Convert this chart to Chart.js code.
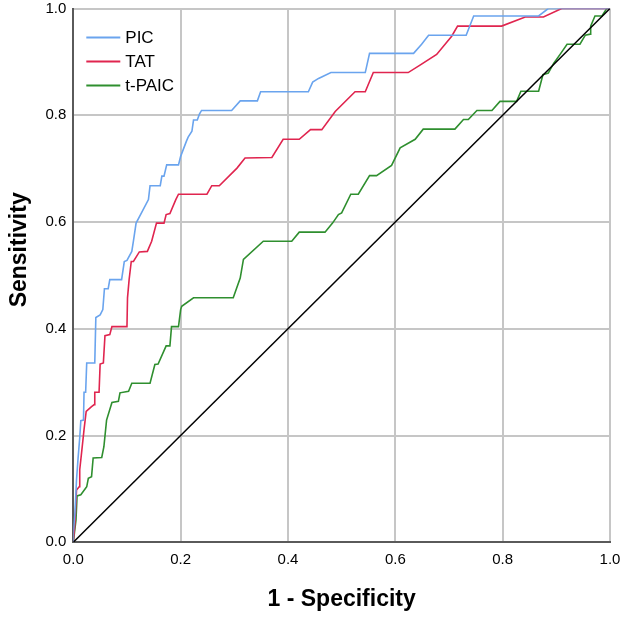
<!DOCTYPE html>
<html>
<head>
<meta charset="utf-8">
<script src="https://cdn.jsdelivr.net/npm/chart.js@4.4.1/dist/chart.umd.min.js"></script>
<style>
  html, body { margin: 0; padding: 0; background: #fff; }
  #wrap { width: 624px; height: 618px; }
</style>
</head>
<body>
<div id="wrap"><canvas id="rocChart"></canvas></div>
<script>
// ROC points (1 - specificity, sensitivity)
const picFpr = [0, 0, 0.003, 0.006, 0.009, 0.012, 0.014, 0.019, 0.020, 0.023, 0.025, 0.040, 0.042, 0.050, 0.055, 0.058, 0.065, 0.068, 0.090, 0.095, 0.100, 0.109, 0.112, 0.117, 0.127, 0.140, 0.143, 0.162, 0.165, 0.169, 0.174, 0.196, 0.200, 0.211, 0.214, 0.221, 0.224, 0.231, 0.235, 0.239, 0.295, 0.311, 0.343, 0.349, 0.438, 0.446, 0.457, 0.480, 0.544, 0.552, 0.634, 0.649, 0.662, 0.732, 0.746, 0.867, 0.885, 1];
const picTpr = [0, 0.017, 0.054, 0.117, 0.159, 0.196, 0.228, 0.229, 0.281, 0.281, 0.336, 0.336, 0.421, 0.426, 0.436, 0.475, 0.475, 0.492, 0.492, 0.526, 0.528, 0.545, 0.564, 0.598, 0.617, 0.642, 0.668, 0.668, 0.686, 0.686, 0.707, 0.707, 0.723, 0.752, 0.759, 0.770, 0.791, 0.791, 0.802, 0.809, 0.809, 0.827, 0.827, 0.844, 0.844, 0.862, 0.869, 0.880, 0.880, 0.916, 0.916, 0.933, 0.950, 0.950, 0.986, 0.986, 1, 1];

const tatFpr = [0, 0.003, 0.006, 0.011, 0.012, 0.016, 0.020, 0.024, 0.034, 0.039, 0.040, 0.048, 0.050, 0.056, 0.059, 0.068, 0.072, 0.100, 0.101, 0.104, 0.108, 0.112, 0.123, 0.138, 0.146, 0.155, 0.169, 0.173, 0.180, 0.191, 0.196, 0.249, 0.258, 0.272, 0.305, 0.320, 0.370, 0.391, 0.421, 0.442, 0.463, 0.488, 0.525, 0.544, 0.559, 0.624, 0.646, 0.677, 0.705, 0.716, 0.798, 0.842, 0.876, 0.910, 1];
const tatTpr = [0, 0.036, 0.098, 0.104, 0.136, 0.173, 0.211, 0.245, 0.254, 0.258, 0.281, 0.281, 0.334, 0.336, 0.387, 0.389, 0.404, 0.404, 0.458, 0.492, 0.526, 0.526, 0.544, 0.545, 0.564, 0.598, 0.598, 0.614, 0.616, 0.642, 0.652, 0.652, 0.668, 0.668, 0.701, 0.720, 0.721, 0.755, 0.755, 0.773, 0.773, 0.807, 0.844, 0.844, 0.880, 0.880, 0.894, 0.914, 0.948, 0.967, 0.967, 0.984, 0.984, 1, 1];

const tpaicFpr = [0, 0.005, 0.007, 0.014, 0.025, 0.028, 0.034, 0.037, 0.053, 0.057, 0.062, 0.072, 0.084, 0.087, 0.103, 0.109, 0.143, 0.152, 0.158, 0.173, 0.180, 0.183, 0.196, 0.200, 0.202, 0.224, 0.298, 0.311, 0.317, 0.354, 0.407, 0.421, 0.469, 0.483, 0.494, 0.500, 0.517, 0.531, 0.552, 0.565, 0.593, 0.609, 0.637, 0.652, 0.711, 0.727, 0.736, 0.752, 0.780, 0.795, 0.826, 0.834, 0.867, 0.875, 0.885, 0.895, 0.907, 0.920, 0.944, 0.954, 0.963, 0.964, 0.972, 0.985, 0.994, 1];
const tpaicTpr = [0, 0.042, 0.087, 0.089, 0.104, 0.120, 0.123, 0.158, 0.159, 0.179, 0.229, 0.262, 0.264, 0.280, 0.283, 0.298, 0.298, 0.333, 0.334, 0.368, 0.368, 0.404, 0.404, 0.436, 0.442, 0.458, 0.458, 0.495, 0.530, 0.564, 0.564, 0.581, 0.581, 0.598, 0.614, 0.617, 0.652, 0.652, 0.687, 0.687, 0.706, 0.739, 0.755, 0.774, 0.774, 0.792, 0.792, 0.809, 0.809, 0.826, 0.826, 0.845, 0.845, 0.876, 0.879, 0.897, 0.914, 0.933, 0.933, 0.950, 0.952, 0.967, 0.986, 0.986, 1, 1];

const refFpr = [0, 1];
const refTpr = [0, 1];

const seriesNames = ['PIC', 'TAT', 't-PAIC'];
const tickValues = [0, 0.2, 0.4, 0.6, 0.8, 1.0];

const toPoints = (xs, ys) => xs.map((x, i) => ({ x: x, y: ys[i] }));
const fontFamily = '"Liberation Sans", Arial, sans-serif';

// legend drawn inside the plot, top-left, like the SPSS output
const insideLegend = {
  id: 'insideLegend',
  afterDatasetsDraw(chart) {
    const { ctx, chartArea } = chart;
    ctx.save();
    ctx.font = '17px ' + fontFamily;
    ctx.textBaseline = 'middle';
    ctx.lineWidth = 2;
    let y = chartArea.top + 29;
    chart.data.datasets.forEach(ds => {
      if (!ds.label) return;
      const x = chartArea.left + 13;
      ctx.strokeStyle = ds.borderColor;
      ctx.beginPath();
      ctx.moveTo(x, y);
      ctx.lineTo(x + 34, y);
      ctx.stroke();
      ctx.fillStyle = '#000';
      ctx.fillText(ds.label, x + 39, y + 1);
      y += 24;
    });
    ctx.restore();
  }
};

const ctx = document.getElementById('rocChart').getContext('2d');
new Chart(ctx, {
  type: 'scatter',
  data: {
    datasets: [
      {
        label: '',
        data: toPoints(refFpr, refTpr),
        borderColor: '#000000',
        borderWidth: 1.5
      },
      {
        label: seriesNames[0],
        data: toPoints(picFpr, picTpr),
        borderColor: '#6aa4ee',
        borderWidth: 1.6
      },
      {
        label: seriesNames[1],
        data: toPoints(tatFpr, tatTpr),
        borderColor: '#e0254f',
        borderWidth: 1.6
      },
      {
        label: seriesNames[2],
        data: toPoints(tpaicFpr, tpaicTpr),
        borderColor: '#2f8f2f',
        borderWidth: 1.6
      }
    ]
  },
  options: {
    responsive: true,
    maintainAspectRatio: false,
    animation: false,
    showLine: true,
    elements: {
      point: { radius: 0, hoverRadius: 0 },
      line: { tension: 0 }
    },
    layout: {
      padding: { top: 8.5, right: 14, bottom: 0, left: 0 }
    },
    plugins: {
      legend: { display: false },
      tooltip: { enabled: false }
    },
    scales: {
      x: {
        type: 'linear',
        min: 0,
        max: 1,
        afterBuildTicks: scale => { scale.ticks = tickValues.map(v => ({ value: v })); },
        afterFit: scale => {
          scale.height = 75.7;
          scale.paddingLeft = 0;
          scale.paddingRight = 0;
        },
        ticks: {
          padding: 9,
          color: '#000',
          font: { family: fontFamily, size: 15 },
          callback: v => v.toFixed(1)
        },
        grid: { color: '#c6c6c6', lineWidth: 2, drawTicks: false },
        border: { color: '#5a5a5a', width: 2 },
        title: {
          display: true,
          text: '1 - Specificity',
          color: '#000',
          font: { family: fontFamily, size: 23, weight: 'bold' },
          padding: { bottom: 5 }
        }
      },
      y: {
        type: 'linear',
        min: 0,
        max: 1,
        afterBuildTicks: scale => { scale.ticks = tickValues.map(v => ({ value: v })); },
        afterFit: scale => {
          scale.width = 73.3;
          scale.paddingTop = 0;
          scale.paddingBottom = 0;
        },
        ticks: {
          padding: 7,
          color: '#000',
          font: { family: fontFamily, size: 15 },
          callback: v => v.toFixed(1)
        },
        grid: { color: '#c6c6c6', lineWidth: 2, drawTicks: false },
        border: { color: '#5a5a5a', width: 2 },
        title: {
          display: true,
          // leading spaces lift the rotated title above the axis middle, as in the source
          text: '\u00a0\u00a0\u00a0\u00a0\u00a0\u00a0\u00a0\u00a0Sensitivity',
          color: '#000',
          font: { family: fontFamily, size: 23, weight: 'bold' },
          padding: { top: 6 }
        }
      }
    }
  },
  plugins: [insideLegend]
});
</script>
</body>
</html>
